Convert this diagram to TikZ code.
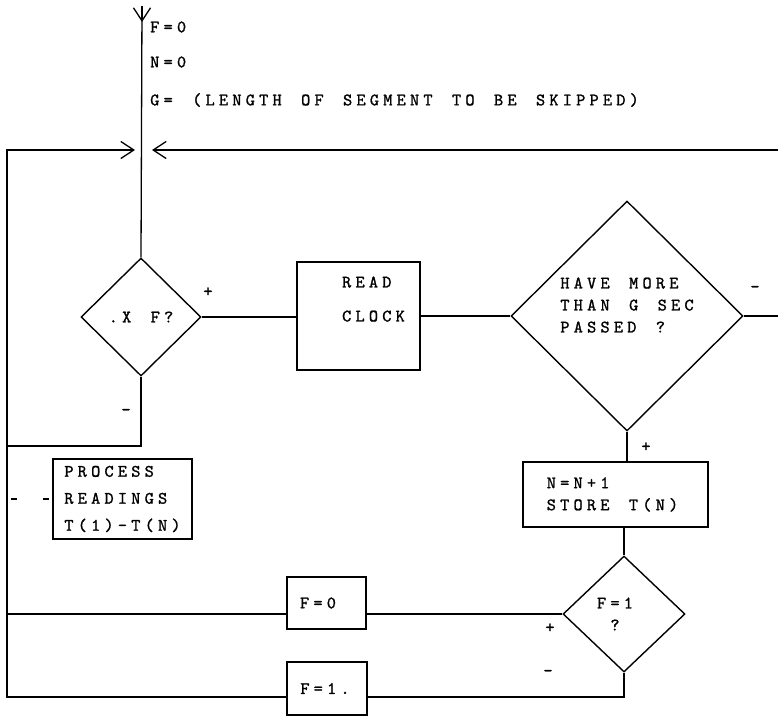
\documentclass[tikz,border=0pt]{standalone}
\usepackage{fontspec}
\usetikzlibrary{arrows.meta,shapes.geometric}
\newfontfamily\typewriter{lmmono10-regular}[Extension=.otf,LetterSpace=24,WordSpace={1.45,0,0},FakeBold=1.2]
\newcommand{\TypeFont}{\typewriter\fontsize{17.5}{22}\selectfont}
\tikzset{
  flow/.style={draw=black,line width=1.3pt},
  barb/.style={flow,-{Straight Barb[length=13pt,width=17pt]}},
  box/.style={draw=black,line width=1.4pt,rectangle,inner sep=0pt,align=left,font=\TypeFont},
  test/.style={draw=black,line width=1.4pt,diamond,inner sep=0pt,align=left,font=\TypeFont},
  sign/.style={inner sep=0pt,font=\TypeFont},
  note/.style={inner sep=0pt,anchor=west,font=\TypeFont}
}
\begin{document}
\begin{tikzpicture}[x=1pt,y=-1pt]
  \useasboundingbox (0,0) rectangle (778,716);
  % entry and loop-back points
  \coordinate (entry) at (142,6);
  \coordinate (entrytip) at (142,22);
  \coordinate (joinL) at (135,150);
  \coordinate (joinR) at (152,150);
  \coordinate (lt) at (7,150);
  \coordinate (rt) at (778,150);
  \coordinate (xfl) at (7,446);
  \coordinate (bot) at (624,697);

  % initial values
  \node[note] (initF) at (150,27) {F=0};
  \node[note] (initN) at (150,62) {N=0};
  \node[note] (initG) at (150,100) {G= (LENGTH OF SEGMENT TO BE SKIPPED)};

  % boxes and tests
  \node[test,minimum width=120pt,minimum height=118pt] (xf) at (141,317) {.X F?};
  \node[box,minimum width=123pt,minimum height=108pt] (clock) at (358.5,316) {\hspace*{30pt}READ\\[12pt]\hspace*{30pt}CLOCK\\[12pt]\mbox{}};
  \node[test,minimum width=232pt,minimum height=230pt] (hm) at (627,316) {HAVE MORE\\THAN G SEC\\PASSED ?\\\mbox{}};
  \node[box,minimum width=139pt,minimum height=80pt] (proc) at (122.5,499) {PROCESS\\[5pt]READINGS\\[5pt]T(1)-T(N)};
  \node[box,minimum width=185pt,minimum height=65pt] (store) at (615.5,494.5) {N=N+1\\STORE T(N)\hspace*{6pt}};
  \node[test,minimum width=122pt,minimum height=116pt,align=center] (fq) at (624,614) {F=1\hspace*{18pt}\\?\hspace*{18pt}};
  \node[box,minimum width=79pt,minimum height=52pt] (f0) at (326.5,603) {F=0\hspace*{17pt}};
  \node[box,minimum width=80pt,minimum height=53pt] (f1) at (327,688.5) {F=1.\hspace*{4pt}};

  % connectors
  \draw[flow] (entry) -- (xf.north);
  \draw[barb] (entry) -- (entrytip);
  \draw[barb] (rt) -- (joinR);
  \draw[flow] (xf.east) -- (xf.east -| clock.west);
  \draw[flow] (clock.east) -- (hm.west);
  \draw[flow] (hm.east) -- (hm.east -| rt);
  \draw[flow] (hm.south) -- (hm.south |- store.north);
  \draw[flow] (fq.north |- store.south) -- (fq.north);
  \draw[flow] (fq.west) -- (fq.west -| f0.east);
  \draw[flow] (fq.west -| f0.west) -- (fq.west -| lt);
  \draw[flow] (fq.south) -- (bot) -- (bot -| f1.east);
  \draw[barb] (bot -| f1.west) -- (bot -| lt) -- (lt) -- (joinL);
  \draw[flow] (xf.south) |- (xfl);
  \draw[flow,dash pattern=on 0pt off 4pt on 6pt off 26pt on 6pt off 20pt] (lt |- proc.west) -- (proc.west);

  % branch signs
  \node[sign] (plusX) at (208,292) {+};
  \node[sign] (minusX) at (126,412) {-};
  \node[sign] (minusHM) at (755,289) {-};
  \node[sign] (plusHM) at (646,447) {+};
  \node[sign] (plusF) at (550,628) {+};
  \node[sign] (minusF) at (548,673) {-};
\end{tikzpicture}
\end{document}
